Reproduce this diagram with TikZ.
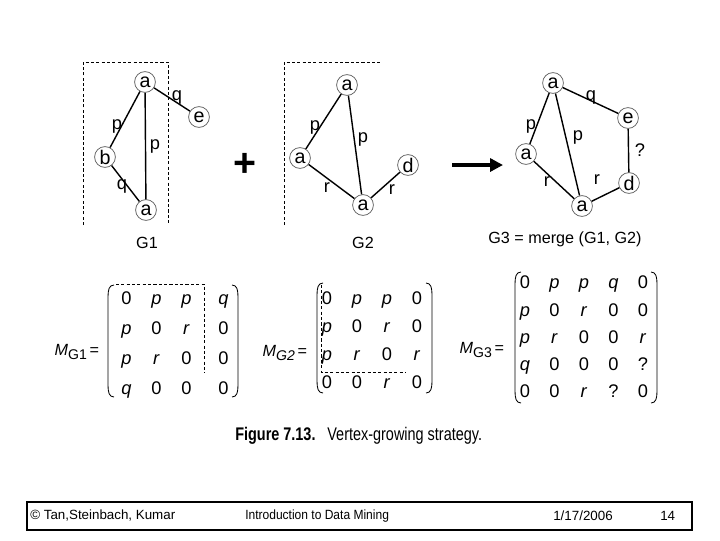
\documentclass[tikz,border=0pt]{standalone}
\usepackage{fontspec}
\setmainfont{Liberation Sans}
\usepackage{tikz}
\usetikzlibrary{arrows.meta}
\usetikzlibrary{matrix}

\begin{document}
\begin{tikzpicture}[x=0.025cm,y=-0.025cm,
  vert/.style={shape=circle,draw=black!65,line width=0.5pt,minimum size=0.52cm,inner sep=0pt,font=\fontsize{14}{14}\selectfont},
  lbl/.style={inner sep=0pt,font=\fontsize{13}{13}\selectfont},
  link/.style={line width=1pt},
  frame/.style={dashed,dash pattern=on 2.2pt off 1.6pt,line width=0.6pt},
  paren/.style={line width=0.6pt},
  mat/.style={matrix of nodes,nodes={inner sep=0pt,text height=9pt,text depth=0pt,minimum width=0.5cm,minimum height=0.5cm,font=\fontsize{13}{13}\selectfont}},
  glabel/.style={font=\fontsize{11.5}{12}\selectfont},
  foot/.style={anchor=west,inner sep=0pt,font=\fontsize{9.5}{10}\selectfont}]
\useasboundingbox (0,0) rectangle (720,540);

\draw[frame] (83,225) -- (83,62) -- (168,62) -- (168,225);
\node[vert] (g1a) at (145,82) {a};
\node[vert] (g1e) at (199,117) {e};
\node[vert] (g1b) at (105,157) {b};
\node[vert] (g1c) at (146,210) {a};
\draw[link] (g1a) -- (g1e);
\draw[link] (g1a) -- (g1b);
\draw[link] (g1a) -- (g1c);
\draw[link] (g1b) -- (g1c);
\node[lbl] at (177,97) {q};
\node[lbl] at (117,126) {p};
\node[lbl] at (155,146) {p};
\node[lbl] at (122,186) {q};
\node[glabel] (g1name) at (147,243) {G1};

\node (plus) at (245,165) {\fontsize{28}{28}\selectfont\bfseries +};

\draw[frame] (284,225) -- (284,62) -- (380,62);
\node[vert] (g2a) at (347,85) {a};
\node[vert] (g2b) at (300,158) {a};
\node[vert] (g2c) at (363,205) {a};
\node[vert] (g2d) at (408,165) {d};
\draw[link] (g2a) -- (g2b);
\draw[link] (g2a) -- (g2c);
\draw[link] (g2b) -- (g2c);
\draw[link] (g2c) -- (g2d);
\node[lbl] at (315,127) {p};
\node[lbl] at (363,139) {p};
\node[lbl] at (327,188) {r};
\node[lbl] at (392,190) {r};
\node[glabel] (g2name) at (363,243) {G2};

\coordinate (arrs) at (452,165);
\coordinate (arre) at (503,165);
\draw[line width=2.8pt,-{Triangle[length=0.32cm,width=0.32cm]}] (arrs) -- (arre);

\node[vert] (g3a) at (553,83) {a};
\node[vert] (g3e) at (628,118) {e};
\node[vert] (g3b) at (526,154) {a};
\node[vert] (g3d) at (629,183) {d};
\node[vert] (g3c) at (582,206) {a};
\draw[link] (g3a) -- (g3e);
\draw[link] (g3a) -- (g3b);
\draw[link] (g3a) -- (g3c);
\draw[link] (g3b) -- (g3c);
\draw[link] (g3c) -- (g3d);
\draw[link] (g3e) -- (g3d);
\node[lbl] at (591,97) {q};
\node[lbl] at (531,126) {p};
\node[lbl] at (578,137) {p};
\node[lbl] at (640,150) {?};
\node[lbl] at (547,182) {r};
\node[lbl] at (597,180) {r};
\node[glabel] (g3name) at (565,239) {G3 = merge (G1, G2)};

\node[anchor=east,glabel] (mg1name) at (104,352) {\textit{M}\raisebox{-0.4ex}{\fontsize{10}{10}\selectfont G1}\,=};
\matrix (mg1) [mat,column sep=0.25cm,row sep=0.25cm] at (175,343) {
0 & \textit{p} & \textit{p} &[0.175cm] \textit{q} \\
\textit{p} & 0 & \textit{r} & 0 \\
\textit{p} & \textit{r} & 0 & 0 \\
\textit{q} & 0 & 0 & 0 \\
};
\draw[paren] (114,285) .. controls (109,285) and (108,290) .. (108,297) -- (108,385) .. controls (108,392) and (109,397) .. (114,397);
\draw[paren] (232,285) .. controls (237,285) and (238,290) .. (238,297) -- (238,385) .. controls (238,392) and (237,397) .. (232,397);
\draw[frame] (116,284) -- (204,284) -- (204,373);

\node[anchor=east,glabel] (mg2name) at (312,353) {\textit{M}\raisebox{-0.4ex}{\fontsize{10}{10}\selectfont\itshape G2}\,=};
\matrix (mg2) [mat,column sep=0.25cm,row sep=0.2cm] at (372,340) {
0 & \textit{p} & \textit{p} & 0 \\
\textit{p} & 0 & \textit{r} & 0 \\
\textit{p} & \textit{r} & 0 & \textit{r} \\
0 & 0 & \textit{r} & 0 \\
};
\draw[paren] (323,283) .. controls (318,283) and (317,288) .. (317,295) -- (317,381) .. controls (317,388) and (318,393) .. (323,393);
\draw[paren] (426,283) .. controls (431,283) and (432,288) .. (432,295) -- (432,381) .. controls (432,388) and (431,393) .. (426,393);
\draw[frame] (321,285) -- (321,372) -- (406,372);

\node[anchor=east,glabel] (mg3name) at (509,350) {\textit{M}\raisebox{-0.4ex}{\fontsize{10}{10}\selectfont G3}\,=};
\matrix (mg3) [mat,column sep=0.2375cm,row sep=0.18cm] at (584,337) {
0 & \textit{p} & \textit{p} & \textit{q} & 0 \\
\textit{p} & 0 & \textit{r} & 0 & 0 \\
\textit{p} & \textit{r} & 0 & 0 & \textit{r} \\
\textit{q} & 0 & 0 & 0 & ? \\
0 & 0 & \textit{r} & ? & 0 \\
};
\draw[paren] (521,272) .. controls (516,272) and (515,277) .. (515,284) -- (515,391) .. controls (515,398) and (516,403) .. (521,403);
\draw[paren] (651,272) .. controls (656,272) and (657,277) .. (657,284) -- (657,391) .. controls (657,398) and (656,403) .. (651,403);

\node[anchor=west,inner sep=0pt] (caption) at (235,436) {\scalebox{0.79}[1]{\fontsize{13}{14}\selectfont\textbf{Figure 7.13.}\hspace{0.45em} Vertex-growing strategy.}};

\draw[line width=1.4pt] (27,502) rectangle (692,530);
\node[foot] (authors) at (30,516) {© Tan,Steinbach, Kumar};
\node[foot] (book) at (245,516) {\scalebox{0.9}[1]{Introduction to Data Mining}};
\node[foot] (date) at (553,516) {1/17/2006};
\node[foot] (page) at (660,516) {14};
\end{tikzpicture}
\end{document}
